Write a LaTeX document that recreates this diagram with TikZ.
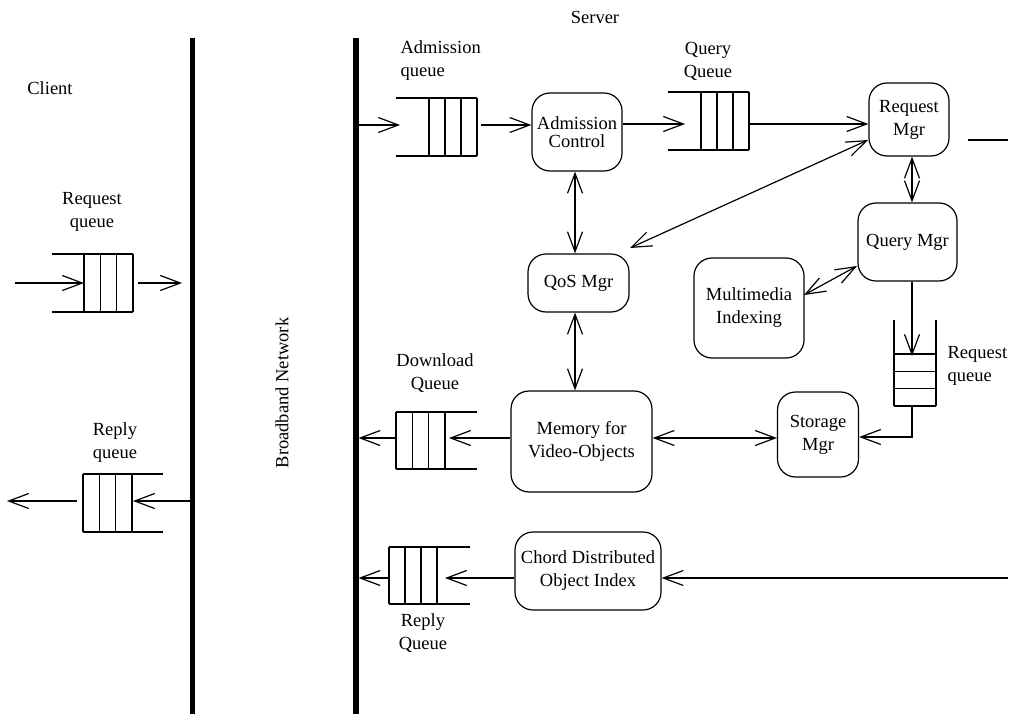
\documentclass[tikz,border=0pt]{standalone}
\usepackage{fontspec}
\setmainfont{Liberation Serif}
\usetikzlibrary{arrows.meta}

% queue of three cells: #1 open end x, #2 first cell wall x, #3 closed end x, #4 top y, #5 bottom y
\newcommand{\qcells}[5]{%
  \draw (#1,#4) -- (#3,#4) (#1,#5) -- (#3,#5);
  \foreach \k in {0,1,2,3}
    \draw ({#2+\k*(#3-#2)/3},#4) -- ({#2+\k*(#3-#2)/3},#5);
}

\begin{document}
\begin{tikzpicture}[x=1pt,y=-1pt,
  font=\fontsize{18.5}{23}\selectfont,
  line width=1.2pt,
  >={Straight Barb[length=20pt,width=15pt]},
  box/.style={draw, rounded corners=18pt, align=center, inner sep=0pt},
  lbl/.style={align=center, inner sep=0pt},
  bus/.style={line width=5.5pt}]
\useasboundingbox (0,0) rectangle (1009,714);

% network buses
\draw[bus] (192.5,38) -- (192.5,714);
\draw[bus] (356,38) -- (356,714);

% titles
\node[lbl] (server) at (595,17) {Server};
\node[lbl] (client) at (50,88) {Client};
\node[lbl, rotate=90] (bn) at (282,393) {Broadband Network};

% processing units
\node[box, minimum width=90pt, minimum height=78pt, font=\fontsize{18.5}{18}\selectfont] (adm) at (577,132) {Admission\\Control};
\node[box, minimum width=80pt, minimum height=73pt] (reqm) at (909,119.5) {Request\\Mgr};
\node[box, minimum width=99pt, minimum height=78pt] (qry) at (907.5,242) {Query Mgr};
\node[box, minimum width=110pt, minimum height=100pt] (mmi) at (749,308) {Multimedia\\Indexing};
\node[box, minimum width=101pt, minimum height=58pt] (qos) at (578.5,283) {QoS Mgr};
\node[box, minimum width=141pt, minimum height=101pt] (mem) at (581.5,441.5) {Memory for\\Video-Objects};
\node[box, minimum width=81pt, minimum height=85pt] (sto) at (818,434.5) {Storage\\Mgr};
\node[box, minimum width=146pt, minimum height=78pt] (chord) at (588,571) {Chord Distributed\\Object Index};

% queue labels
\node[lbl] (lreq) at (92,212) {Request\\queue};
\node[lbl] (lrep) at (115,443) {Reply\\queue};
\node[lbl, align=left, anchor=west] (ladm) at (400,61) {Admission\\queue};
\node[lbl] (lqq) at (708,61) {Query\\Queue};
\node[lbl] (ldl) at (435,373) {Download\\Queue};
\node[lbl] (lrq) at (423,633) {Reply\\Queue};
\node[lbl, align=left, anchor=west] (lvq) at (947,366) {Request\\queue};

% queues
\qcells{52}{84}{133}{254}{312}
\qcells{163}{132}{83}{474}{532}
\qcells{396}{429}{477}{98}{156}
\qcells{668}{701}{749}{92}{150}
\qcells{477}{445}{396}{412}{469}
\qcells{470}{437}{389}{547}{604}
\draw (894,320) -- (894,406) (936,320) -- (936,406);
\foreach \yy in {354,371.33,388.67,406} \draw (894,\yy) -- (936,\yy);

% connector end points
\coordinate (cin) at (15,283);   \coordinate (cq) at (84,283);
\coordinate (cqo) at (138,283);  \coordinate (cbus) at (182,283);
\coordinate (rbus) at (190,501); \coordinate (rq) at (133,501);
\coordinate (rqo) at (77,501);   \coordinate (rend) at (7,501);
\coordinate (abus) at (358.5,125); \coordinate (aq) at (400,125);
\coordinate (aqo) at (481,125);
\coordinate (qqin) at (685,124); \coordinate (qqo) at (749,124);
\coordinate (rl1) at (968,140);  \coordinate (rl2) at (1008,140);
\coordinate (vx) at (912,0);     \coordinate (ax) at (575,0);
\coordinate (rqa) at (868,140);  \coordinate (rqb) at (630,248);
\coordinate (mqa) at (857,266);  \coordinate (mqb) at (804,295);
\coordinate (vqin) at (912,356); \coordinate (vqo) at (912,406);
\coordinate (sturn) at (912,437);
\coordinate (my) at (0,438);
\coordinate (dqin) at (449,438); \coordinate (dqo) at (396,438);
\coordinate (dbus) at (358.5,438);
\coordinate (cright) at (1008,578); \coordinate (rqin) at (445,578);
\coordinate (rqout) at (389,578);   \coordinate (rqbus) at (358.5,578);

% client side
\draw[->] (cin) -- (cq);
\draw[->] (cqo) -- (cbus);
\draw[->] (rbus) -- (rq);
\draw[->] (rqo) -- (rend);

% server side
\draw[->] (abus) -- (aq);
\draw[->] (aqo) -- (adm.west |- aqo);
\draw[->] (adm.east |- qqin) -- (qqin);
\draw[->] (qqo) -- (reqm.west |- qqo);
\draw (rl1) -- (rl2);
\draw[<->] (reqm.south -| vx) -- (qry.north -| vx);
\draw[<->] (rqa) -- (rqb);
\draw[<->] (adm.south -| ax) -- (qos.north -| ax);
\draw[<->] (qos.south -| ax) -- (mem.north -| ax);
\draw[<->] (mqa) -- (mqb);
\draw[->] (qry.south -| vx) -- (vqin);
\draw[->] (vqo) -- (sturn) -- (sto.east |- sturn);
\draw[<->] (mem.east |- my) -- (sto.west |- my);
\draw[->] (mem.west |- my) -- (dqin);
\draw[->] (dqo) -- (dbus);
\draw[->] (cright) -- (chord.east |- cright);
\draw[->] (chord.west |- cright) -- (rqin);
\draw[->] (rqout) -- (rqbus);
\end{tikzpicture}
\end{document}
